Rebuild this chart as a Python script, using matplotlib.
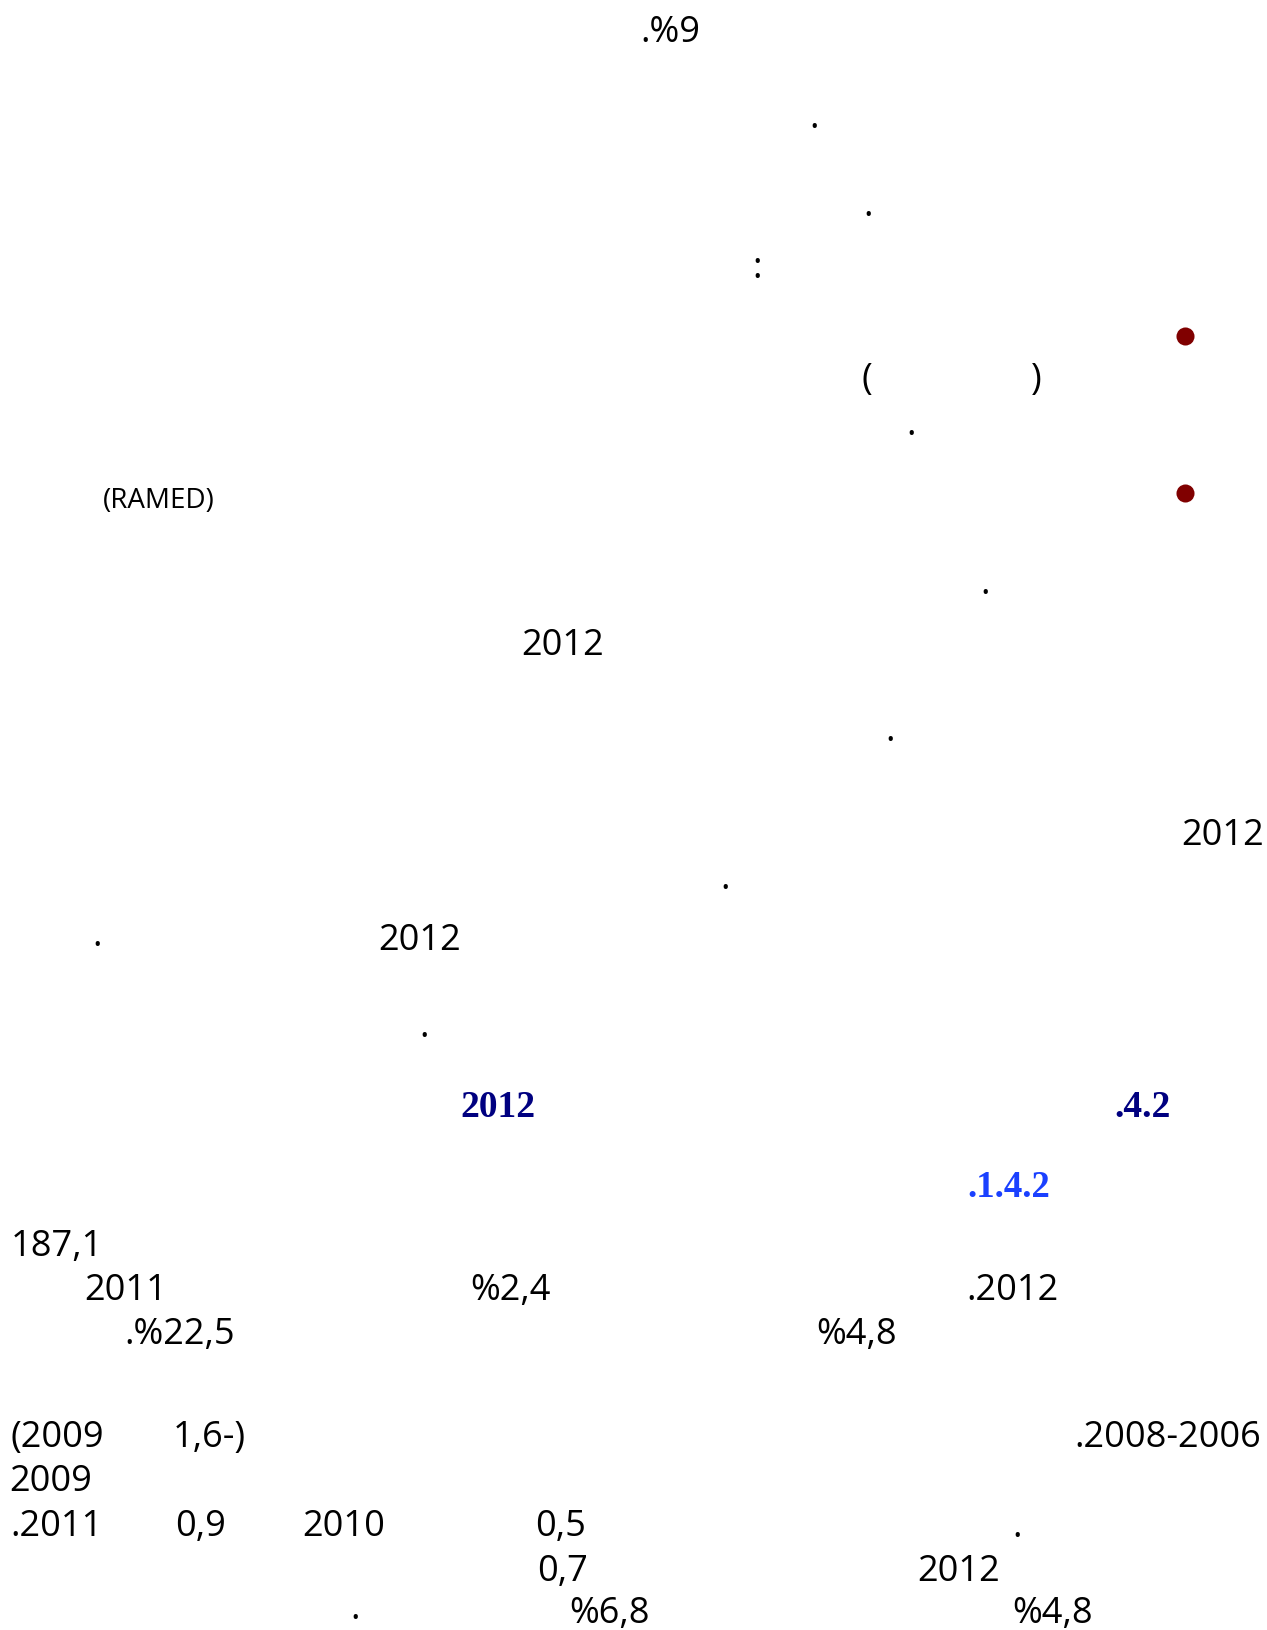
import matplotlib
matplotlib.use("Agg")
import matplotlib.pyplot as plt

# ---- text content (only the glyphs that are visible on the page) ----
body_texts = [".%9", ".", ".", ":", "(", ")", ".", ".", "2012", ".",
              "2012", ".", ".", "2012", ".",
              "187,1",
              "2011", "%2,4", ".2012",
              ".%22,5", "%4,8",
              "(2009", "1,6-)", ".2008-2006",
              "2009",
              ".2011", "0,9", "2010", "0,5", ".",
              "0,7", "2012",
              ".", "%6,8", "%4,8"]
small_texts = ["(RAMED)"]
heading_texts = ["2012", ".4.2"]
subheading_texts = [".1.4.2"]

# ---- layout (page pixel coordinates: left x / centre x, baseline y) ----
body_layout = [(670, 42, 'center'), (814, 128, 'center'), (868, 216, 'center'),
               (757, 278, 'center'), (867, 389, 'center'), (1036, 389, 'center'),
               (911, 435, 'center'), (985, 594, 'center'), (521, 655, 'left'),
               (890, 741, 'center'),
               (1181, 845, 'left'), (725, 889, 'center'), (97, 946, 'center'),
               (378, 950, 'left'), (424, 1037, 'center'),
               (11, 1256, 'left'),
               (84, 1300, 'left'), (470, 1300, 'left'), (966, 1300, 'left'),
               (124, 1344, 'left'), (816, 1344, 'left'),
               (10, 1447, 'left'), (173, 1447, 'left'), (1074, 1447, 'left'),
               (9, 1491, 'left'),
               (10, 1536, 'left'), (175, 1536, 'left'), (302, 1536, 'left'),
               (535, 1536, 'left'), (1017, 1537, 'center'),
               (537, 1581, 'left'), (917, 1581, 'left'),
               (355, 1619, 'center'), (569, 1623, 'left'), (1012, 1623, 'left')]
small_layout = [(103, 508)]
heading_layout = [(460, 1117), (1114, 1117)]
subheading_layout = [(967, 1197)]
bullet_layout = [(1185, 337), (1185, 494)]

W, H = 1267, 1631
fig = plt.figure(figsize=(W / 100, H / 100), dpi=100)
fig.patch.set_facecolor('white')
ax = fig.add_axes([0, 0, 1, 1])
ax.set_xlim(0, W)
ax.set_ylim(H, 0)
ax.axis('off')

body_font = ['Open Sans', 'DejaVu Sans']
for t, (x, y, ha) in zip(body_texts, body_layout):
    ax.text(x, y, t, fontsize=26, family=body_font, color='black',
            ha=ha, va='baseline')

for t, (x, y) in zip(small_texts, small_layout):
    ax.text(x, y, t, fontsize=20, family=body_font, color='black',
            ha='left', va='baseline')

for t, (x, y) in zip(heading_texts, heading_layout):
    ax.text(x, y, t, fontsize=27, family=['Liberation Serif', 'DejaVu Serif'],
            fontweight='bold', color='#000080', ha='left', va='baseline')

for t, (x, y) in zip(subheading_texts, subheading_layout):
    ax.text(x, y, t, fontsize=26.5, family=['Liberation Serif', 'DejaVu Serif'],
            fontweight='bold', color='#1a40ff', ha='left', va='baseline')

bx = [p[0] for p in bullet_layout]
by = [p[1] for p in bullet_layout]
ax.plot(bx, by, 'o', color='#800000', markersize=13, markeredgewidth=0)

fig.savefig('out.png', dpi=100, facecolor='white')
